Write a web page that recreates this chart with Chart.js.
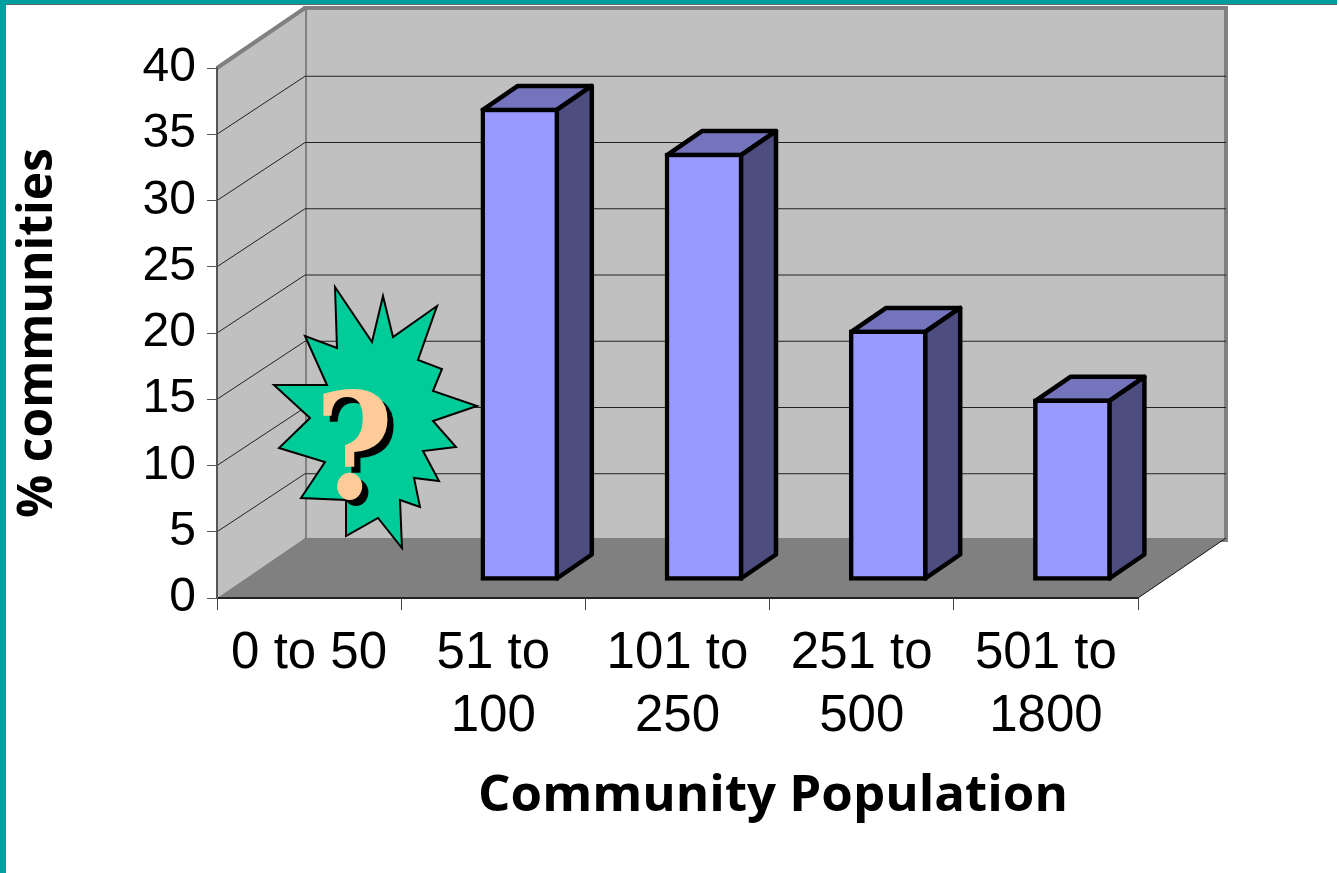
<!DOCTYPE html>
<html>
<head>
<meta charset="utf-8">
<title>Community Population</title>
<script src="https://cdn.jsdelivr.net/npm/chart.js@4"></script>
<style>
  body { margin: 0; background: #fff; overflow: hidden; }
  #chart { position: absolute; left: 0; top: 0; }
  #bar-top { position: absolute; left: 0; top: 0; width: 1337px; height: 4px; background: #009f9f; border-bottom: 1px solid #5a6a6a; }
  #bar-left { position: absolute; left: 0; top: 0; width: 6px; height: 873px; background: #009f9f; }
</style>
</head>
<body>
<canvas id="chart" width="1337" height="873"></canvas>
<div id="bar-top"></div>
<div id="bar-left"></div>
<script>
// Values
const categories = [['0 to 50'], ['51 to', '100'], ['101 to', '250'], ['251 to', '500'], ['501 to', '1800']];
const percentCommunities = [null, 35.7, 32.3, 18.95, 13.75];

// 3D look of the old chart
const wallDepth = { x: 88, y: -60 };
const gridDepth = { x: 88, y: -58 };
const barShift = { x: 26.5, y: -17 };
const barDepth = { x: 35, y: -24 };

// The "?" burst sticker, outline in page pixels
const burst = [
  [335, 287], [372, 342], [383, 296], [393, 337], [437, 306], [418, 360], [442, 369], [433, 391],
  [477, 406], [433, 421], [456, 447], [423, 451], [439, 481], [414, 478], [420, 507], [400, 500],
  [402, 548], [378, 518], [346, 536], [346, 500], [301, 498], [325, 462], [279, 448], [310, 418],
  [274, 385], [327, 385], [305, 336], [337, 348]
];

function poly(ctx, pts, fill, stroke, lineWidth, join) {
  ctx.beginPath();
  pts.forEach((p, i) => i ? ctx.lineTo(p[0], p[1]) : ctx.moveTo(p[0], p[1]));
  ctx.closePath();
  if (fill) { ctx.fillStyle = fill; ctx.fill(); }
  if (stroke) {
    ctx.strokeStyle = stroke;
    ctx.lineWidth = lineWidth;
    ctx.lineJoin = join || 'miter';
    ctx.stroke();
  }
}

const box3d = {
  id: 'box3d',
  beforeDraw(chart) {
    const { ctx, chartArea: a, scales } = chart;
    const dx = wallDepth.x, dy = wallDepth.y;

    // x title sits right of the plot centre in the original
    scales.x.right = 1329;

    ctx.save();
    // back wall, side wall, floor
    poly(ctx, [[a.left + dx, a.top + dy], [a.right + dx, a.top + dy], [a.right + dx, a.bottom + dy + 2], [a.left + dx, a.bottom + dy + 2]], '#c0c0c0', '#808080', 4);
    poly(ctx, [[a.left, a.top], [a.left + dx, a.top + dy], [a.left + dx, a.bottom + dy], [a.left, a.bottom]], '#c0c0c0', null);
    ctx.strokeStyle = '#808080';
    ctx.lineWidth = 4;
    ctx.beginPath();
    ctx.moveTo(a.left, a.top);
    ctx.lineTo(a.left + dx, a.top + dy);
    ctx.stroke();

    // grid lines run along the side wall then across the back
    scales.y.ticks.forEach((t, i) => {
      if (t.value === 0 || t.value === 40) return;
      const y = scales.y.getPixelForTick(i);
      ctx.beginPath();
      ctx.moveTo(a.left, y);
      ctx.lineTo(a.left + gridDepth.x, y + gridDepth.y);
      ctx.lineTo(a.right + gridDepth.x, y + gridDepth.y);
      ctx.strokeStyle = '#222';
      ctx.lineWidth = 1;
      ctx.stroke();
    });

    poly(ctx, [[a.left, a.bottom], [a.left + dx, a.bottom + dy], [a.right + dx, a.bottom + dy], [a.right, a.bottom]], '#808080', null);
    ctx.beginPath();
    ctx.moveTo(a.left, a.bottom);
    ctx.lineTo(a.right, a.bottom);
    ctx.strokeStyle = '#222';
    ctx.lineWidth = 2;
    ctx.stroke();
    ctx.beginPath();
    ctx.moveTo(a.right, a.bottom);
    ctx.lineTo(a.right + dx, a.bottom + dy);
    ctx.strokeStyle = '#111';
    ctx.lineWidth = 1;
    ctx.stroke();
    ctx.restore();
  },
  beforeDatasetsDraw(chart) {
    const ctx = chart.ctx;
    ctx.save();
    ctx.translate(barShift.x, barShift.y);
    // top and side faces first, the front is drawn by the bar element
    chart.getDatasetMeta(0).data.forEach((bar, i) => {
      if (percentCommunities[i] === null) return;
      const l = bar.x - bar.width / 2 + 2, r = bar.x + bar.width / 2 - 2;
      const t = bar.y + 2, b = bar.base - 2;
      const ddx = barDepth.x, ddy = barDepth.y;
      poly(ctx, [[l, t], [l + ddx, t + ddy], [r + ddx, t + ddy], [r, t]], '#7474bd', '#000', 4.5, 'round');
      poly(ctx, [[r, t], [r + ddx, t + ddy], [r + ddx, b + ddy], [r, b]], '#4d4d80', '#000', 4.5, 'round');
    });
  },
  afterDatasetsDraw(chart) {
    const ctx = chart.ctx;
    ctx.restore();

    // burst sticker over the missing first bar
    ctx.save();
    poly(ctx, burst, '#00cc99', '#000', 2);
    ctx.font = 'bold 146px "DejaVu Serif"';
    ctx.textAlign = 'center';
    ctx.textBaseline = 'alphabetic';
    ctx.translate(354, 498);
    ctx.scale(0.92, 1);
    ctx.fillStyle = '#000';
    ctx.fillText('?', 7, 6);
    ctx.fillStyle = '#ffcc99';
    ctx.fillText('?', 0, 0);
    ctx.restore();
  }
};

new Chart(document.getElementById('chart').getContext('2d'), {
  type: 'bar',
  data: {
    labels: categories,
    datasets: [{
      data: percentCommunities,
      backgroundColor: '#9999ff',
      borderColor: '#000',
      borderWidth: 4.5,
      borderSkipped: false,
      barThickness: 78
    }]
  },
  options: {
    responsive: false,
    animation: false,
    layout: { padding: { top: 68, right: 199, left: 0, bottom: 0 } },
    plugins: { legend: { display: false }, tooltip: { enabled: false } },
    scales: {
      x: {
        afterFit: s => { s.height = 275; },
        grid: { offset: true, drawOnChartArea: false, tickLength: 12, tickColor: '#444' },
        border: { display: false },
        ticks: {
          color: '#000', padding: 12, maxRotation: 0, autoSkip: false,
          font: { family: '"Liberation Sans"', size: 51, lineHeight: 1.235 }
        },
        title: {
          display: true, text: 'Community Population', color: '#000',
          font: { family: '"Open Sans"', size: 51, weight: 'bold', lineHeight: 1.2 },
          padding: { top: 0, bottom: 46 }
        }
      },
      y: {
        min: 0, max: 40,
        afterFit: s => { s.width = 217; },
        grid: { drawOnChartArea: false, tickLength: 10, tickColor: '#555' },
        border: { color: '#555', width: 2 },
        ticks: {
          stepSize: 5, color: '#000', padding: 11,
          font: { family: '"Liberation Sans"', size: 48 }
        },
        title: {
          display: true, text: '% communities', color: '#000',
          font: { family: '"Open Sans"', size: 48, weight: 'bold', lineHeight: 1.2 },
          padding: { top: 10, bottom: 0 }
        }
      }
    }
  },
  plugins: [box3d]
});
</script>
</body>
</html>
